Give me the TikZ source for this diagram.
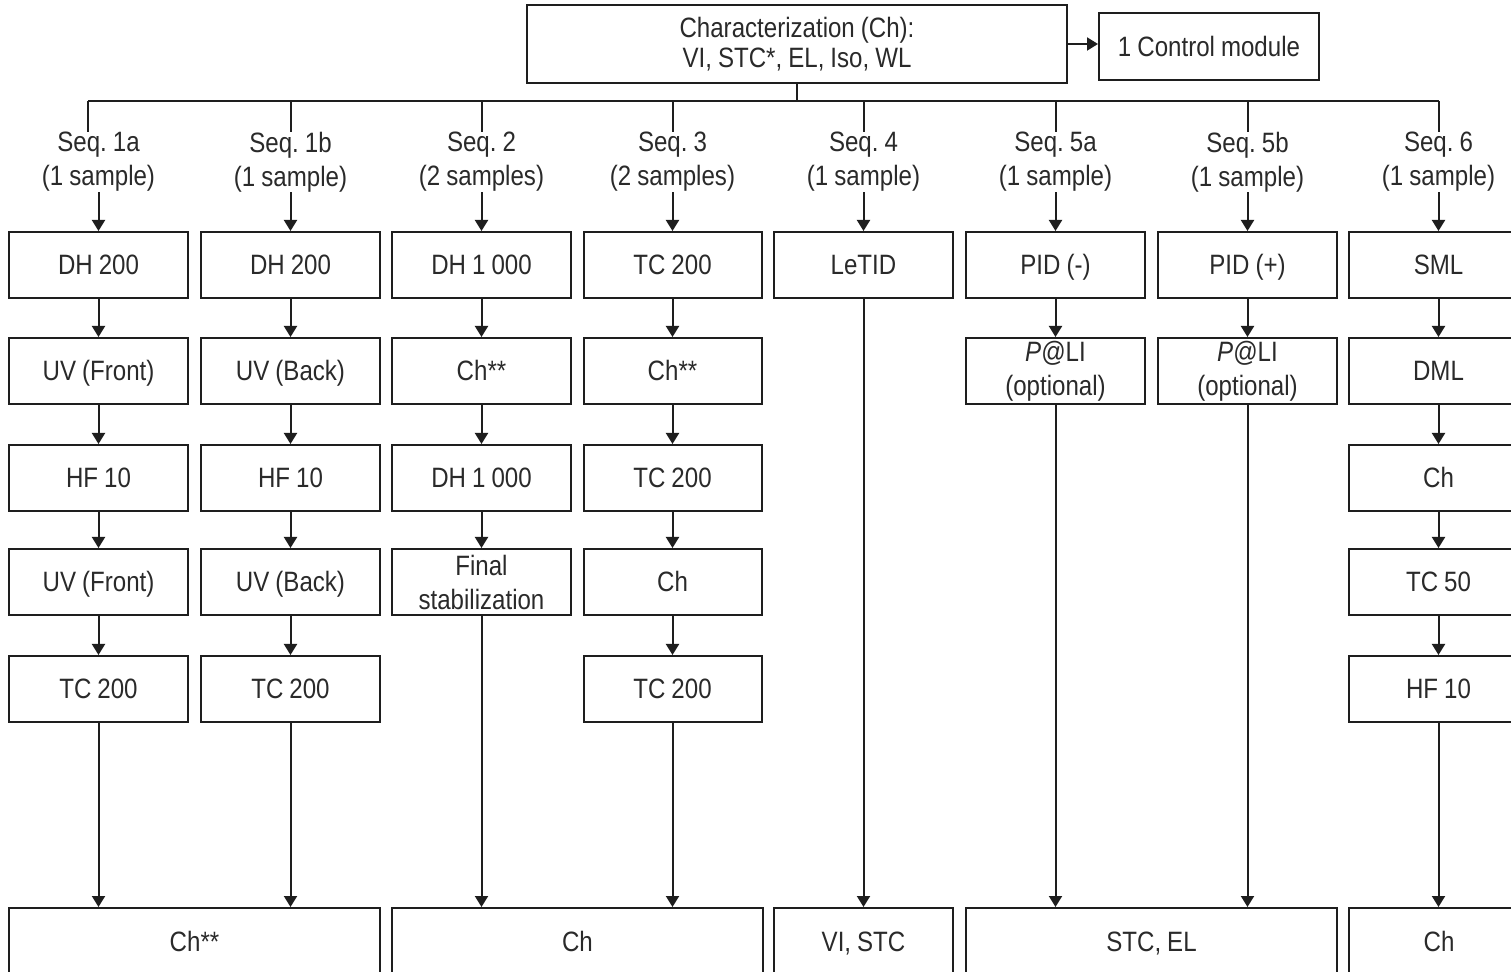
\documentclass[tikz,border=0pt]{standalone}
\usepackage{fontspec}
\setmainfont{Liberation Sans}[FakeStretch=0.86,WordSpace=0.9]
\usetikzlibrary{arrows.meta}
\definecolor{ink}{HTML}{1E1E1E}
\definecolor{txt}{HTML}{2A2A2A}
\frenchspacing
\begin{document}
\begin{tikzpicture}[x=0.5pt,y=-0.5pt,
  boxbase/.style={draw=ink, line width=1pt, fill=white, inner sep=0pt, minimum width=89.5pt, minimum height=33pt, align=center, font=\fontsize{14}{17}\selectfont, text=txt},
  box/.style={boxbase, text height=10pt, text depth=0pt},
  boxtwo/.style={boxbase},
  lab/.style={inner sep=0pt, align=center, font=\fontsize{14}{17}\selectfont, text=txt},
  arr/.style={draw=ink, line width=1pt, -{Triangle[length=5.5pt,width=6.5pt]}},
  ln/.style={draw=ink, line width=1pt}]
\useasboundingbox (0,0) rectangle (1511,972);
\clip (0,0) rectangle (1511,972);
\fill[white] (0,0) rectangle (1511,972);

% top
\node[boxtwo, minimum width=270pt, minimum height=39pt, font=\fontsize{14}{15}\selectfont] (top) at (797,44) {Characterization (Ch):\\VI, STC*, EL, Iso, WL};
\node[box, minimum width=110pt, minimum height=33.5pt] (ctrl) at (1209,46.5) {1 Control module};
\draw[arr] (top.east) -- (top.east -| ctrl.west);

% bus
\coordinate (bL) at (88,101);
\coordinate (bR) at (1438.5,101);
\draw[ln] (top.south) -- (top.south |- bL);
\draw[ln] (bL) -- (bR);

% labels
\node[lab] (la) at (98.5,162) {Seq. 1a\\(1 sample)};
\node[lab] (lb) at (290.5,162) {Seq. 1b\\(1 sample)};
\node[lab] (lc) at (481.5,162) {Seq. 2\\(2 samples)};
\node[lab] (ld) at (672.5,162) {Seq. 3\\(2 samples)};
\node[lab] (le) at (863.5,162) {Seq. 4\\(1 sample)};
\node[lab] (lf) at (1055.5,162) {Seq. 5a\\(1 sample)};
\node[lab] (lg) at (1247.5,162) {Seq. 5b\\(1 sample)};
\node[lab] (lh) at (1438.5,162) {Seq. 6\\(1 sample)};

\draw[ln] (bL) -- (bL |- la.north);
\foreach \l in {lb,lc,ld,le,lf,lg,lh} \draw[ln] (\l.north |- bL) -- (\l.north);

% column 1a
\node[box] (a1) at (98.5,265) {DH 200};
\node[box] (a2) at (98.5,371) {UV (Front)};
\node[box] (a3) at (98.5,478) {HF 10};
\node[box] (a4) at (98.5,582) {UV (Front)};
\node[box] (a5) at (98.5,689) {TC 200};
% column 1b
\node[box] (b1) at (290.5,265) {DH 200};
\node[box] (b2) at (290.5,371) {UV (Back)};
\node[box] (b3) at (290.5,478) {HF 10};
\node[box] (b4) at (290.5,582) {UV (Back)};
\node[box] (b5) at (290.5,689) {TC 200};
% column 2
\node[box] (c1) at (481.5,265) {DH 1 000};
\node[box] (c2) at (481.5,371) {Ch**};
\node[box] (c3) at (481.5,478) {DH 1 000};
\node[boxtwo] (c4) at (481.5,582) {Final\\stabilization};
% column 3
\node[box, minimum width=89pt] (d1) at (672.5,265) {TC 200};
\node[box, minimum width=89pt] (d2) at (672.5,371) {Ch**};
\node[box, minimum width=89pt] (d3) at (672.5,478) {TC 200};
\node[box, minimum width=89pt] (d4) at (672.5,582) {Ch};
\node[box, minimum width=89pt] (d5) at (672.5,689) {TC 200};
% column 4
\node[box] (e1) at (863.5,265) {LeTID};
% column 5a
\node[box] (f1) at (1055.5,265) {PID (-)};
\node[boxtwo] (f2) at (1055.5,371) {\textit{P}@LI\\(optional)};
% column 5b
\node[box] (g1) at (1247.5,265) {PID (+)};
\node[boxtwo] (g2) at (1247.5,371) {\textit{P}@LI\\(optional)};
% column 6
\node[box] (h1) at (1438.5,265) {SML};
\node[box] (h2) at (1438.5,371) {DML};
\node[box] (h3) at (1438.5,478) {Ch};
\node[box] (h4) at (1438.5,582) {TC 50};
\node[box] (h5) at (1438.5,689) {HF 10};

% bottom
\node[box, minimum width=185.5pt] (z1) at (194.5,941) {Ch**};
\node[box, minimum width=185.5pt] (z2) at (577.5,941) {Ch};
\node[box] (z3) at (863.5,941) {VI, STC};
\node[box, minimum width=185.5pt] (z4) at (1151.5,941) {STC, EL};
\node[box, minimum width=90pt] (z5) at (1439,941) {Ch};

% label arrows
\draw[arr] (la.south) -- (a1.north);
\draw[arr] (lb.south) -- (b1.north);
\draw[arr] (lc.south) -- (c1.north);
\draw[arr] (ld.south) -- (d1.north);
\draw[arr] (le.south) -- (e1.north);
\draw[arr] (lf.south) -- (f1.north);
\draw[arr] (lg.south) -- (g1.north);
\draw[arr] (lh.south) -- (h1.north);

% chains
\draw[arr] (a1) -- (a2); \draw[arr] (a2) -- (a3); \draw[arr] (a3) -- (a4); \draw[arr] (a4) -- (a5);
\draw[arr] (b1) -- (b2); \draw[arr] (b2) -- (b3); \draw[arr] (b3) -- (b4); \draw[arr] (b4) -- (b5);
\draw[arr] (c1) -- (c2); \draw[arr] (c2) -- (c3); \draw[arr] (c3) -- (c4);
\draw[arr] (d1) -- (d2); \draw[arr] (d2) -- (d3); \draw[arr] (d3) -- (d4); \draw[arr] (d4) -- (d5);
\draw[arr] (f1) -- (f2);
\draw[arr] (g1) -- (g2);
\draw[arr] (h1) -- (h2); \draw[arr] (h2) -- (h3); \draw[arr] (h3) -- (h4); \draw[arr] (h4) -- (h5);

% to bottom
\draw[arr] (a5.south) -- (a5.south |- z1.north);
\draw[arr] (b5.south) -- (b5.south |- z1.north);
\draw[arr] (c4.south) -- (c4.south |- z2.north);
\draw[arr] (d5.south) -- (d5.south |- z2.north);
\draw[arr] (e1.south) -- (e1.south |- z3.north);
\draw[arr] (f2.south) -- (f2.south |- z4.north);
\draw[arr] (g2.south) -- (g2.south |- z4.north);
\draw[arr] (h5.south) -- (h5.south |- z5.north);
\end{tikzpicture}
\end{document}
